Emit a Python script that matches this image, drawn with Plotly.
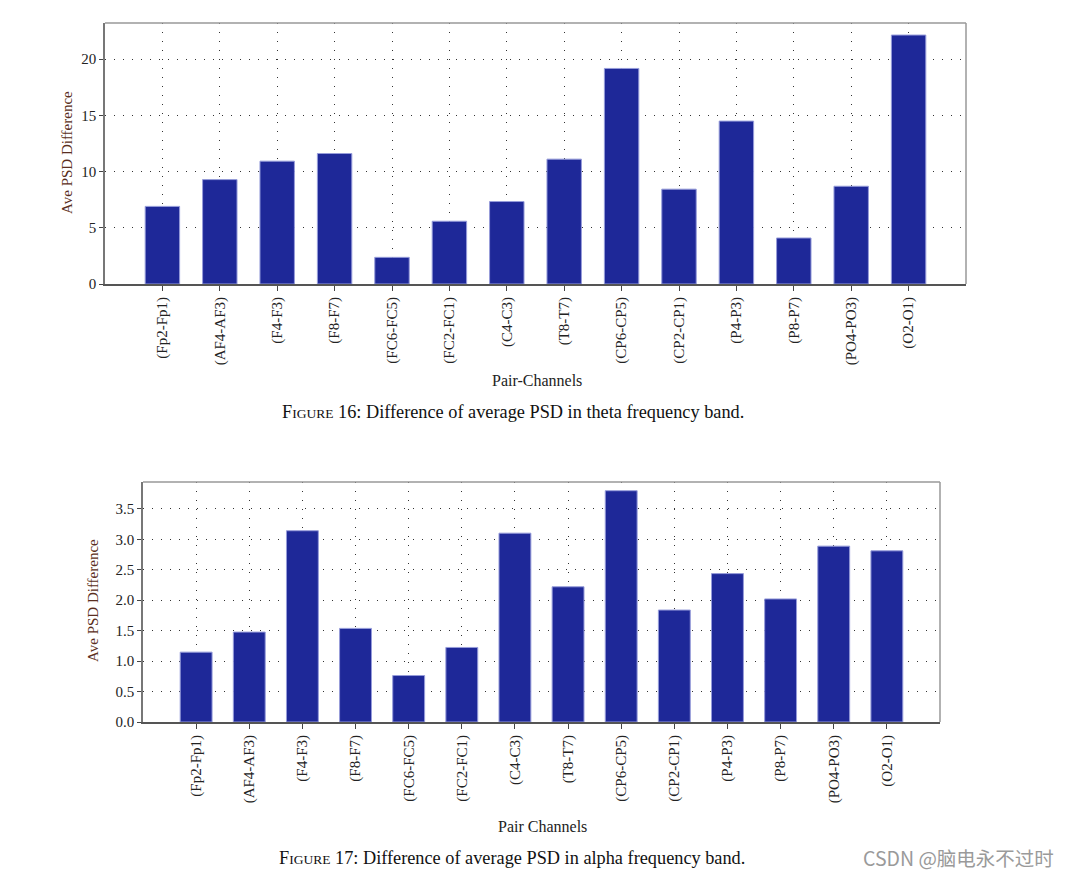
import plotly.graph_objects as go

categories = ["(Fp2-Fp1)", "(AF4-AF3)", "(F4-F3)", "(F8-F7)", "(FC6-FC5)", "(FC2-FC1)",
              "(C4-C3)", "(T8-T7)", "(CP6-CP5)", "(CP2-CP1)", "(P4-P3)", "(P8-P7)",
              "(PO4-PO3)", "(O2-O1)"]
theta_values = [6.9, 9.28, 10.92, 11.6, 2.37, 5.58, 7.33, 11.1, 19.16, 8.43, 14.48, 4.09, 8.69, 22.13]
alpha_values = [1.147, 1.476, 3.14, 1.537, 0.763, 1.224, 3.10, 2.22, 3.797, 1.838, 2.436, 2.02, 2.887, 2.81]

theta_ticks = [0, 5, 10, 15, 20]
alpha_ticks = [0.0, 0.5, 1.0, 1.5, 2.0, 2.5, 3.0, 3.5]
alpha_ticklabels = ["0.0", "0.5", "1.0", "1.5", "2.0", "2.5", "3.0", "3.5"]

W, H = 1069, 875
OFF = 8  # page body margin in the browser
def px(x):
    return (x - OFF) / W
def py(y):
    return 1 - (y - OFF) / H

BAR = "rgb(30,40,152)"
EDGE = "rgb(150,156,218)"
SERIF = "Liberation Serif"
TXT = "#222222"
YT = "#5a2e20"

top_dom_x = [px(105), px(966)]
top_dom_y = [py(284), py(23)]
bot_dom_x = [px(143), px(940)]
bot_dom_y = [py(722), py(482)]

fig = go.Figure()
fig.add_trace(go.Bar(x=categories, y=theta_values, width=0.6, xaxis="x", yaxis="y",
                     marker=dict(color=BAR, line=dict(color=EDGE, width=1)), showlegend=False))
fig.add_trace(go.Bar(x=categories, y=alpha_values, width=0.6, xaxis="x2", yaxis="y2",
                     marker=dict(color=BAR, line=dict(color=EDGE, width=1)), showlegend=False))

common_x = dict(type="category", range=[-1, 14], showgrid=True, gridcolor="#333333",
                griddash="1px,8px", gridwidth=1, ticks="outside", ticklen=5, tickcolor="#444444",
                tickangle=-90, showline=True, linecolor="#555555", linewidth=2, automargin=False,
                tickfont=dict(family=SERIF, size=15, color=TXT), zeroline=False)
common_y = dict(showgrid=True, gridcolor="#333333", griddash="1px,8px", gridwidth=1,
                ticks="outside", ticklen=4, tickcolor="#444444", showline=True, automargin=False,
                linecolor="#777777", linewidth=1.5, zeroline=False,
                tickfont=dict(family=SERIF, size=15, color=TXT))

fig.update_layout(
    width=W, height=H, margin=dict(l=0, r=0, t=0, b=0, autoexpand=False),
    paper_bgcolor="white", plot_bgcolor="white", bargap=0.4,
    xaxis=dict(common_x, domain=top_dom_x, anchor="y"),
    yaxis=dict(common_y, domain=top_dom_y, anchor="x", range=[0, 23.2], tickvals=theta_ticks),
    xaxis2=dict(common_x, domain=bot_dom_x, anchor="y2"),
    yaxis2=dict(common_y, domain=bot_dom_y, anchor="x2", range=[0, 3.94],
                tickvals=alpha_ticks, ticktext=alpha_ticklabels),
)

# light frame (top/right)
for dx, dy in [(top_dom_x, top_dom_y), (bot_dom_x, bot_dom_y)]:
    fig.add_shape(type="line", xref="paper", yref="paper", x0=dx[0], x1=dx[1], y0=dy[1], y1=dy[1],
                  line=dict(color="#999999", width=1.5))
    fig.add_shape(type="line", xref="paper", yref="paper", x0=dx[1], x1=dx[1], y0=dy[0], y1=dy[1],
                  line=dict(color="#999999", width=1.5))

def ann(text, x, y, size, color=TXT, angle=0, family=SERIF):
    fig.add_annotation(text=text, x=px(x), y=py(y), xref="paper", yref="paper", showarrow=False,
                       textangle=angle, font=dict(family=family, size=size, color=color),
                       xanchor="center", yanchor="middle")

ann("Ave PSD Difference", 67, 153, 15, YT, -90)
ann("Ave PSD Difference", 93, 601, 15, YT, -90)
ann("Pair-Channels", 537, 380, 16)
ann("Pair Channels", 542, 826, 16)
sc = "<span style='font-size:13.5px'>"
ann("F" + sc + "IGURE</span> 16: Difference of average PSD in theta frequency band.", 513, 412, 18.3, "#111111")
ann("F" + sc + "IGURE</span> 17: Difference of average PSD in alpha frequency band.", 512, 858, 18.3, "#111111")
ann("CSDN @脑电永不过时", 958, 857, 19.5, "#9a9a9a", 0, "Noto Sans CJK SC")

fig.write_html("out.html")
